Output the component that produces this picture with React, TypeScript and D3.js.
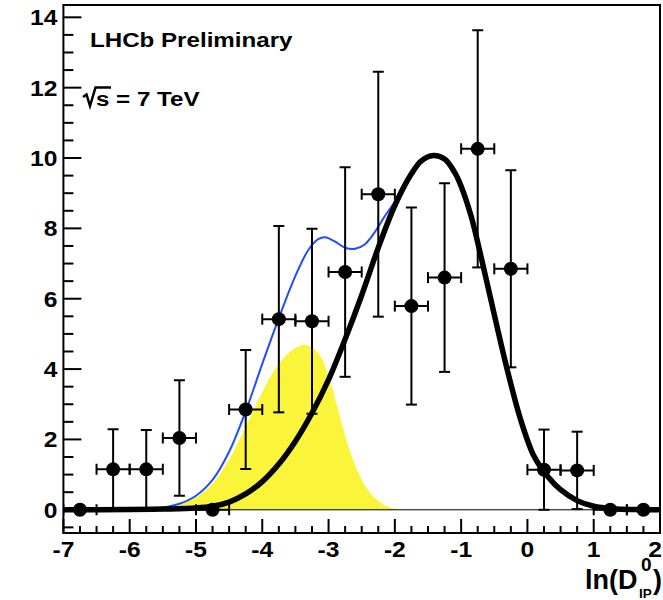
import React from "react";
import * as d3 from "d3";

// ---- data ----
const binCenters = [-6.75, -6.25, -5.75, -5.25, -4.75, -4.25, -3.75, -3.25, -2.75, -2.25, -1.75, -1.25, -0.75, -0.25, 0.25, 0.75, 1.25, 1.75];
const counts = [0, 1.15, 1.15, 2.04, 0, 2.85, 5.42, 5.36, 6.76, 8.97, 5.79, 6.6, 10.26, 6.85, 1.14, 1.12, 0, 0];
const countErrors = [0, 1.14, 1.12, 1.64, 0, 1.69, 2.65, 2.63, 2.98, 3.48, 2.8, 2.68, 3.37, 2.8, 1.14, 1.1, 0, 0];
const binHalfWidth = 0.25;

// prompt (black) component
const promptX = [-7, -6, -5.5, -5, -4.75, -4.5, -4.25, -4, -3.75, -3.5, -3.25, -3, -2.75, -2.5, -2.25, -2, -1.75, -1.6, -1.42, -1.25, -1.1, -1, -0.85, -0.7, -0.5, -0.3, -0.1, 0.1, 0.3, 0.5, 0.75, 1, 1.3, 1.6, 2];
const promptY = [0, 0.005, 0.02, 0.05, 0.1, 0.22, 0.45, 0.8, 1.3, 1.95, 2.75, 3.7, 4.85, 6.1, 7.45, 8.65, 9.55, 9.92, 10.07, 9.97, 9.6, 9.2, 8.35, 7.2, 5.55, 3.95, 2.55, 1.52, 0.96, 0.57, 0.26, 0.1, 0.03, 0.008, 0];

// secondary (yellow) component
const secX = [-6.0, -5.75, -5.5, -5.25, -5.0, -4.75, -4.5, -4.25, -4.0, -3.75, -3.5, -3.33, -3.15, -3.0, -2.85, -2.7, -2.55, -2.4, -2.25, -2.1, -1.9, -1.7];
const secY = [0, 0.02, 0.05, 0.15, 0.35, 0.75, 1.43, 2.35, 3.35, 4.15, 4.6, 4.68, 4.45, 3.8, 2.8, 1.8, 1.05, 0.55, 0.25, 0.08, 0.01, 0];

// total (blue) fit
const totalX = [-6.0, -5.75, -5.5, -5.25, -5.0, -4.75, -4.5, -4.25, -4.0, -3.75, -3.5, -3.3, -3.15, -3.05, -2.9, -2.75, -2.6, -2.45, -2.3, -2.15, -2.0];
const totalY = [0, 0.02, 0.06, 0.17, 0.4, 0.85, 1.65, 2.8, 4.15, 5.45, 6.65, 7.4, 7.7, 7.75, 7.62, 7.45, 7.42, 7.55, 7.9, 8.35, 8.75];

const xTicks = [-7, -6, -5, -4, -3, -2, -1, 0, 1, 2];
const yTicks = [0, 2, 4, 6, 8, 10, 12, 14];

const W = 663, H = 600;
const left = 63.4, right = 660, top = 5, bottom = 533;

const FONT = "'Liberation Sans', Arial, Helvetica, sans-serif";

export default function App() {
  const x = d3.scaleLinear().domain([-7, 2]).range([left, right]);
  const y = d3.scaleLinear().domain([-0.66, 14.35]).range([bottom, top]);

  const curve = d3.curveCatmullRom.alpha(0.5);
  const promptLine = d3.line<number>().x((_, i) => x(promptX[i])).y((d) => y(d)).curve(curve)(promptY) || "";
  const totalLine = d3.line<number>().x((_, i) => x(totalX[i])).y((d) => y(d)).curve(curve)(totalY) || "";
  const secArea = d3.area<number>().x((_, i) => x(secX[i])).y0(y(0)).y1((d) => y(Math.max(0, d))).curve(curve)(secY) || "";

  const minorY = d3.range(-0.5, 14.01, 0.5).filter((v) => Math.abs(v / 2 - Math.round(v / 2)) > 1e-6);
  const minorX = d3.range(-7, 2.001, 0.25).filter((v) => Math.abs(v - Math.round(v)) > 1e-6);

  const sx = 1.12;
  const capW = 5.5;

  return (
    <svg width={W} height={H} style={{ position: "absolute", left: 0, top: 0, background: "#fff" }} fontFamily={FONT} fontWeight="bold">
      <rect x={0} y={0} width={W} height={H} fill="#fff" />
      <defs>
        <clipPath id="plotclip">
          <rect x={left} y={top} width={right - left} height={bottom - top} />
        </clipPath>
      </defs>
      <g clipPath="url(#plotclip)">
        <path d={secArea} fill="#faf43a" stroke="none" />
        <line x1={left} x2={right} y1={y(0)} y2={y(0)} stroke="#000" strokeWidth={1} />
        <path d={totalLine} fill="none" stroke="#1f4dff" strokeWidth={2} />
        <path d={promptLine} fill="none" stroke="#000" strokeWidth={5.5} strokeLinejoin="round" />
        {binCenters.map((c, i) => {
          const cx = x(c), cy = y(counts[i]);
          const e = countErrors[i];
          const xl = x(c - binHalfWidth), xr = x(c + binHalfWidth);
          return (
            <g key={i} stroke="#000" strokeWidth={2}>
              <line x1={xl} x2={xr} y1={cy} y2={cy} />
              <line x1={xl} x2={xl} y1={cy - capW} y2={cy + capW} />
              <line x1={xr} x2={xr} y1={cy - capW} y2={cy + capW} />
              {e > 0 && (
                <>
                  <line x1={cx} x2={cx} y1={y(counts[i] + e)} y2={y(Math.max(0, counts[i] - e))} />
                  <line x1={cx - capW} x2={cx + capW} y1={y(counts[i] + e)} y2={y(counts[i] + e)} />
                  <line x1={cx - capW} x2={cx + capW} y1={y(Math.max(0, counts[i] - e))} y2={y(Math.max(0, counts[i] - e))} />
                </>
              )}
              <circle cx={cx} cy={cy} r={7} fill="#000" stroke="none" />
            </g>
          );
        })}
      </g>

      {/* frame */}
      <rect x={left} y={top} width={right - left} height={bottom - top} fill="none" stroke="#000" strokeWidth={2} />

      {/* y ticks */}
      {yTicks.map((t) => (
        <g key={"y" + t}>
          <line x1={left} x2={left + 18} y1={y(t)} y2={y(t)} stroke="#000" strokeWidth={2} />
          <text transform={`translate(${left - 6},${y(t) + 8}) scale(${sx},1)`} textAnchor="end" fontSize={22}>{t}</text>
        </g>
      ))}
      {minorY.map((t) => (
        <line key={"my" + t} x1={left} x2={left + 10} y1={y(t)} y2={y(t)} stroke="#000" strokeWidth={2} />
      ))}

      {/* x ticks */}
      {xTicks.map((t, i) => (
        <g key={"x" + t}>
          <line x1={x(t)} x2={x(t)} y1={bottom} y2={bottom - 14} stroke="#000" strokeWidth={2} />
          {i === xTicks.length - 1 ? (
            <text transform={`translate(${W - 1},557) scale(${sx},1)`} textAnchor="end" fontSize={22}>{t}</text>
          ) : (
            <text transform={`translate(${x(t)},557) scale(${sx},1)`} textAnchor="middle" fontSize={22}>{t < 0 ? "-" + Math.abs(t) : t}</text>
          )}
        </g>
      ))}
      {minorX.map((t) => (
        <line key={"mx" + t} x1={x(t)} x2={x(t)} y1={bottom} y2={bottom - 7} stroke="#000" strokeWidth={2} />
      ))}

      {/* axis title */}
      <text x={585} y={589} fontSize={27}>ln(D</text>
      <text x={641} y={571} fontSize={19}>0</text>
      <text x={639} y={598} fontSize={13.5}>IP</text>
      <text x={653} y={589} fontSize={27}>)</text>

      {/* labels */}
      <text transform={`translate(90,47) scale(1.15,1)`} fontSize={21}>LHCb Preliminary</text>
      <path d="M83,97 L86.5,94.5 L90,106 L95.5,87.5 L111,87.5" fill="none" stroke="#000" strokeWidth={2.5} strokeLinejoin="miter" />
      <text transform={`translate(96,106) scale(1.15,1)`} fontSize={21}>s = 7 TeV</text>
    </svg>
  );
}
